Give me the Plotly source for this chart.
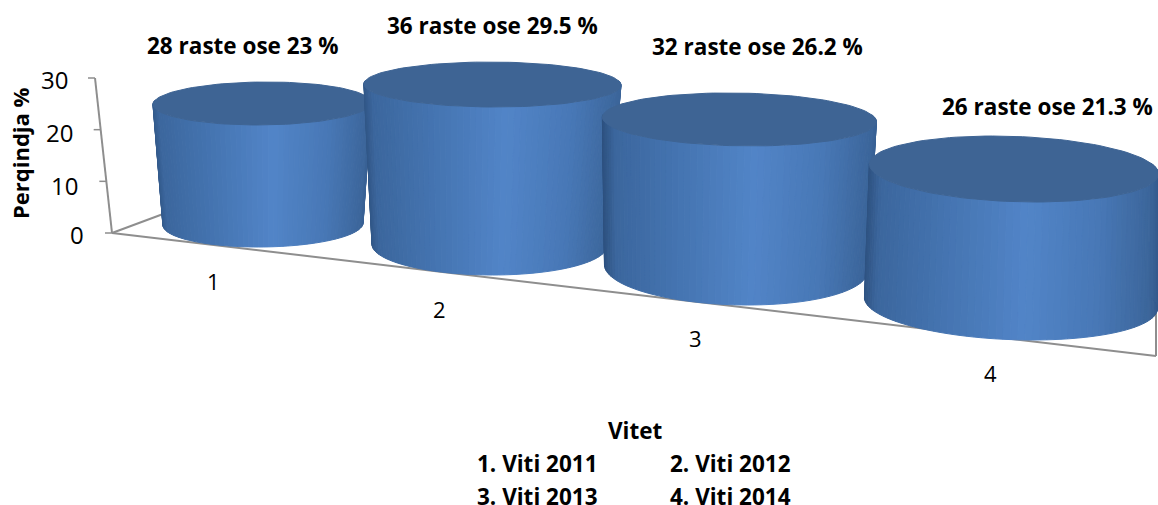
import numpy as np
import plotly.graph_objects as go

# ---- data ----
categories = [1, 2, 3, 4]
cases = [28, 36, 32, 26]
percent = [23, 29.5, 26.2, 21.3]
value_ticks = [0, 10, 20, 30]
axis_title = "Perqindja %"
x_title = "Vitet"
year_labels = ["1. Viti 2011", "2. Viti 2012", "3. Viti 2013", "4. Viti 2014"]

FONT = "Open Sans"
W, H = 1158, 505

# ---- the chart's oblique 3-D view, per category, in page pixels ----
base_centre = [(263, 224), (489.5, 245), (736, 268), (1011, 303)]
px_per_value = [5.24, 5.44, 5.67, 6.29]          # upward height of one percent
lean_per_value = [-0.04, 0.10, 0.13, 0.14]       # sideways drift of one percent
base_axes = [(100, 23), (117.5, 30), (131, 37), (145, 37)]
top_axes = [(109, 21.5), (128.5, 22.5), (136.5, 26.5), (143, 33)]
shear_k = 0.035                                  # tilt of the ellipses across the page
origin = (112, 233)
axis_top = (95, 78)
floor_right = (1156, 356)
wall_right = (1156, 310)
floor_back = (190, 204)
value_label_xy = [(243, 45), (492.5, 25), (757, 46), (1047, 106)]
category_label_xy = [(213, 281), (439, 309), (695, 338), (990, 373)]
tick_label_xy = [(86, 234), (80, 185), (75, 132), (70, 79)]
year_label_xy = [(537, 463), (730, 463), (537, 496), (730, 496)]

side_stops = [(0, (45, 80, 125)), (.05, (60, 103, 158)), (.25, (68, 115, 175)), (.55, (82, 133, 200)),
              (.8, (72, 120, 182)), (.97, (60, 102, 155)), (1, (52, 90, 140))]
top_color = "rgb(62,100,148)"
gray = "#8e8e8e"

fig = go.Figure()


def mix(stops, t):
    xs = [s[0] for s in stops]
    return "rgb(%d,%d,%d)" % tuple(np.interp(t, xs, [s[1][i] for s in stops]) for i in range(3))


def poly(xs, ys, color):
    fig.add_trace(go.Scatter(x=xs, y=ys, mode="lines", fill="toself", fillcolor=color,
                             line=dict(color=color, width=1), hoverinfo="skip", showlegend=False))


def seg(p, q, width=2):
    fig.add_trace(go.Scatter(x=[p[0], q[0]], y=[p[1], q[1]], mode="lines", line=dict(color=gray, width=width),
                             hoverinfo="skip", showlegend=False))


def ellipse(centre, axes, phi):
    a, b = axes
    shear = shear_k * (centre[0] - 400)
    return centre[0] + a * np.cos(phi) - shear * np.sin(phi), centre[1] - b * np.sin(phi)


seg(origin, axis_top)
seg(origin, floor_right)
seg(origin, floor_back)
seg(floor_right, wall_right)
for t in value_ticks:
    f = t / 30
    p = (origin[0] + (axis_top[0] - origin[0]) * f, origin[1] + (axis_top[1] - origin[1]) * f)
    seg((p[0] - 7, p[1]), p, 1.5)

# cylinders, far to near; height and top position follow the value
for i, val in enumerate(percent):
    bc = base_centre[i]
    tc = (bc[0] + lean_per_value[i] * val, bc[1] - px_per_value[i] * val)
    phi = np.radians(np.linspace(170, 370, 71))
    bx, by = ellipse(bc, base_axes[i], phi)
    tx, ty = ellipse(tc, top_axes[i], phi)
    lo, hi = min(bx.min(), tx.min()), max(bx.max(), tx.max())
    for k in range(len(phi) - 1):
        t = float(((bx[k] + bx[k + 1] + tx[k] + tx[k + 1]) / 4 - lo) / (hi - lo))
        poly([bx[k], bx[k + 1], tx[k + 1], tx[k], bx[k]], [by[k], by[k + 1], ty[k + 1], ty[k], by[k]], mix(side_stops, t))
    ex, ey = ellipse(tc, top_axes[i], np.radians(np.linspace(0, 360, 121)))
    poly(ex, ey, top_color)

annotations = []


def text(x, y, s, size=22.5, bold=True, xanchor="center", angle=0):
    annotations.append(dict(x=x, y=y, xref="x", yref="y", text=("<b>%s</b>" % s) if bold else s, showarrow=False,
                            font=dict(family=FONT, size=size, color="black"), xanchor=xanchor, yanchor="middle", textangle=angle))


for (x, y), n, p in zip(value_label_xy, cases, percent):
    text(x, y, "%d raste ose %s %%" % (n, p))
for (x, y), n in zip(category_label_xy, categories):
    text(x, y, str(n), size=22, bold=False)
for (x, y), t in zip(tick_label_xy, value_ticks):
    text(x, y, str(t), size=24, bold=False, xanchor="right")
text(20, 153, axis_title, size=22, angle=-90)
text(635, 430, x_title)
for (x, y), s in zip(year_label_xy, year_labels):
    text(x, y, s)

fig.update_layout(width=W, height=H, margin=dict(l=0, r=0, t=0, b=0), paper_bgcolor="white", plot_bgcolor="white",
                  showlegend=False, annotations=annotations,
                  xaxis=dict(range=[0, W], visible=False, fixedrange=True),
                  yaxis=dict(range=[H, 0], visible=False, fixedrange=True))
fig.write_html("out.html", config=dict(displayModeBar=False),
               post_script="document.body.style.margin='0';document.documentElement.style.overflow='hidden';")
